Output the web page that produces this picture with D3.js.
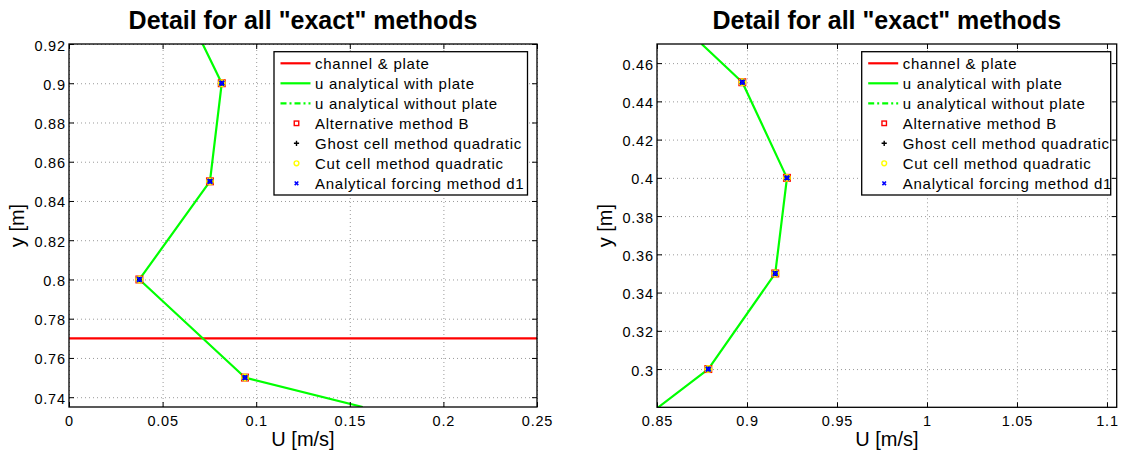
<!DOCTYPE html>
<html>
<head>
<meta charset="utf-8">
<script src="https://cdn.jsdelivr.net/npm/d3@7"></script>
<style>
  html, body { margin: 0; padding: 0; background: #ffffff; }
  svg { display: block; font-family: "Liberation Sans", Arial, Helvetica, sans-serif; }
</style>
</head>
<body>
<svg id="fig" width="1126" height="452"></svg>
<script>
// ---------------- data ----------------
const titleText = 'Detail for all "exact" methods';
const xLabelText = "U [m/s]";
const yLabelText = "y [m]";
const legendLabels = [
  "channel & plate",
  "u analytical with plate",
  "u analytical without plate",
  "Alternative method B",
  "Ghost cell method quadratic",
  "Cut cell method quadratic",
  "Analytical forcing method d1"
];

// left panel: region around the plate
const leftXTicks = [0, 0.05, 0.1, 0.15, 0.2, 0.25];
const leftYTicks = [0.74, 0.76, 0.78, 0.8, 0.82, 0.84, 0.86, 0.88, 0.9, 0.92];
const leftProfileY = [0.92, 0.9, 0.85, 0.8, 0.75, 0.735];
const leftProfileU = [0.0714, 0.0816, 0.0753, 0.0376, 0.0940, 0.1569];
const leftPlateY = [0.77];
const leftSampleY = [0.9, 0.85, 0.8, 0.75];
const leftAltB    = [0.0816, 0.0753, 0.0376, 0.0940];
const leftGhost   = [0.0816, 0.0753, 0.0376, 0.0940];
const leftCutCell = [0.0816, 0.0753, 0.0376, 0.0940];
const leftForcing = [0.0816, 0.0753, 0.0376, 0.0940];

// right panel: channel centre region
const rightXTicks = [0.85, 0.9, 0.95, 1, 1.05, 1.1];
const rightYTicks = [0.3, 0.32, 0.34, 0.36, 0.38, 0.4, 0.42, 0.44, 0.46];
const rightProfileY = [0.47, 0.45, 0.4, 0.35, 0.3, 0.28];
const rightProfileU = [0.8748, 0.8974, 0.9222, 0.9157, 0.8785, 0.8507];
const rightPlateY = [];
const rightSampleY = [0.45, 0.4, 0.35, 0.3];
const rightAltB    = [0.8974, 0.9222, 0.9157, 0.8785];
const rightGhost   = [0.8974, 0.9222, 0.9157, 0.8785];
const rightCutCell = [0.8974, 0.9222, 0.9157, 0.8785];
const rightForcing = [0.8974, 0.9222, 0.9157, 0.8785];

// ---------------- styling ----------------
const GREEN = "#00ff00", RED = "#ff0000", YELLOW = "#ffff00", BLUE = "#0000ff";
const TICK_FS = 14.5, TICK_LS = 0.8;
const LEG_FS = 15, LEG_LS = 0.75;

const svg = d3.select("#fig");
const defs = svg.append("defs");
const fmt = v => String(+v.toFixed(4));

const panels = [
  {
    id: "left", box: [69, 537, 44, 407],
    xDomain: [0, 0.25], yDomain: [0.735, 0.92],
    xTicks: leftXTicks, yTicks: leftYTicks,
    profileY: leftProfileY, profileU: leftProfileU, plateY: leftPlateY,
    sampleY: leftSampleY, altB: leftAltB, ghost: leftGhost, cut: leftCutCell, forcing: leftForcing,
    legendLeft: 263, legendW: 253.5
  },
  {
    id: "right", box: [657, 1116.7, 44, 407.3],
    xDomain: [0.85, 1.1054], yDomain: [0.28, 0.47],
    xTicks: rightXTicks, yTicks: rightYTicks,
    profileY: rightProfileY, profileU: rightProfileU, plateY: rightPlateY,
    sampleY: rightSampleY, altB: rightAltB, ghost: rightGhost, cut: rightCutCell, forcing: rightForcing,
    legendLeft: 255, legendW: 249
  }
];

// marker painters
function squareMark(g, cx, cy, s, sw) {
  g.append("rect").attr("x", cx - s / 2).attr("y", cy - s / 2).attr("width", s).attr("height", s)
    .attr("fill", "none").attr("stroke", RED).attr("stroke-width", sw);
}
function plusMark(g, cx, cy, h, sw) {
  g.append("path").attr("d", `M${cx - h},${cy}H${cx + h}M${cx},${cy - h}V${cy + h}`)
    .attr("stroke", "#000").attr("stroke-width", sw).attr("fill", "none");
}
function circleMark(g, cx, cy, r, sw) {
  g.append("circle").attr("cx", cx).attr("cy", cy).attr("r", r)
    .attr("fill", "none").attr("stroke", YELLOW).attr("stroke-width", sw);
}
function crossMark(g, cx, cy, h, sw) {
  g.append("path").attr("d", `M${cx - h},${cy - h}L${cx + h},${cy + h}M${cx - h},${cy + h}L${cx + h},${cy - h}`)
    .attr("stroke", BLUE).attr("stroke-width", sw).attr("fill", "none");
}

function drawPanel(p) {
  const [x0, x1, y0, y1] = p.box;
  const w = x1 - x0, h = y1 - y0;
  const x = d3.scaleLinear().domain(p.xDomain).range([x0, x1]);
  const y = d3.scaleLinear().domain(p.yDomain).range([y1, y0]);
  const g = svg.append("g").attr("class", "panel-" + p.id);

  defs.append("clipPath").attr("id", "clip-" + p.id)
    .append("rect").attr("x", x0).attr("y", y0).attr("width", w).attr("height", h);

  // dotted grid
  g.append("g").attr("transform", `translate(0,${y1})`)
    .call(d3.axisBottom(x).tickValues(p.xTicks).tickSize(-h).tickFormat(""))
    .call(a => a.select(".domain").remove())
    .selectAll("line").attr("stroke", "#9a9a9a").attr("stroke-width", 1).attr("stroke-dasharray", "1,3");
  g.append("g").attr("transform", `translate(${x0},0)`)
    .call(d3.axisLeft(y).tickValues(p.yTicks).tickSize(-w).tickFormat(""))
    .call(a => a.select(".domain").remove())
    .selectAll("line").attr("stroke", "#9a9a9a").attr("stroke-width", 1).attr("stroke-dasharray", "1,3");

  const plot = g.append("g").attr("clip-path", `url(#clip-${p.id})`);

  // plate position
  plot.selectAll("line.plate").data(p.plateY).join("line").attr("class", "plate")
    .attr("x1", x0).attr("x2", x1).attr("y1", d => y(d)).attr("y2", d => y(d))
    .attr("stroke", RED).attr("stroke-width", 2.2);

  // analytical profile with plate
  const profile = p.profileY.map((yy, i) => [p.profileU[i], yy]);
  plot.append("path").datum(profile)
    .attr("d", d3.line().x(d => x(d[0])).y(d => y(d[1])))
    .attr("fill", "none").attr("stroke", GREEN).attr("stroke-width", 2.2).attr("stroke-linejoin", "round");

  // numerical methods at the sample points
  const mk = plot.append("g");
  p.sampleY.forEach((yy, i) => squareMark(mk, x(p.altB[i]), y(yy), 6.5, 1.5));
  p.sampleY.forEach((yy, i) => plusMark(mk, x(p.ghost[i]), y(yy), 3.5, 1.5));
  p.sampleY.forEach((yy, i) => circleMark(mk, x(p.cut[i]), y(yy), 3.2, 1.5));
  p.sampleY.forEach((yy, i) => crossMark(mk, x(p.forcing[i]), y(yy), 2.4, 2.2));

  // box with inward ticks on all sides
  const TL = 5;
  const tickStyle = s => s.call(a => a.select(".domain").remove())
    .selectAll("line").attr("stroke", "#000").attr("stroke-width", 1);
  g.append("g").attr("transform", `translate(0,${y1})`)
    .call(d3.axisBottom(x).tickValues(p.xTicks).tickSize(-TL).tickFormat("")).call(tickStyle);
  g.append("g").attr("transform", `translate(0,${y0})`)
    .call(d3.axisTop(x).tickValues(p.xTicks).tickSize(-TL).tickFormat("")).call(tickStyle);
  g.append("g").attr("transform", `translate(${x0},0)`)
    .call(d3.axisLeft(y).tickValues(p.yTicks).tickSize(-TL).tickFormat("")).call(tickStyle);
  g.append("g").attr("transform", `translate(${x1},0)`)
    .call(d3.axisRight(y).tickValues(p.yTicks).tickSize(-TL).tickFormat("")).call(tickStyle);
  g.append("rect").attr("x", x0).attr("y", y0).attr("width", w).attr("height", h)
    .attr("fill", "none").attr("stroke", "#000").attr("stroke-width", 1.3);

  // tick labels
  g.append("g").attr("transform", `translate(0,${y1})`)
    .call(d3.axisBottom(x).tickValues(p.xTicks).tickSize(0).tickFormat(fmt))
    .call(a => a.select(".domain").remove())
    .call(a => a.selectAll("line").remove())
    .selectAll("text").attr("y", 19).attr("dy", null)
    .attr("font-size", TICK_FS).attr("letter-spacing", TICK_LS).attr("fill", "#000")
    .attr("font-family", null);
  g.append("g").attr("transform", `translate(${x0},0)`)
    .call(d3.axisLeft(y).tickValues(p.yTicks).tickSize(0).tickFormat(fmt))
    .call(a => a.select(".domain").remove())
    .call(a => a.selectAll("line").remove())
    .selectAll("text").attr("x", -3.2).attr("y", 6).attr("dy", null)
    .attr("font-size", TICK_FS).attr("letter-spacing", TICK_LS).attr("fill", "#000")
    .attr("font-family", null);
  g.selectAll(".tick text").attr("font-family", null);

  // title and axis labels
  g.append("text").attr("x", (x0 + x1) / 2).attr("y", 29).attr("text-anchor", "middle")
    .attr("font-size", 25).attr("font-weight", "bold").text(titleText);
  g.append("text").attr("x", (x0 + x1) / 2).attr("y", 446).attr("text-anchor", "middle")
    .attr("font-size", 20).text(xLabelText);
  g.append("text").attr("transform", `translate(${x0 - 44.6},${(y0 + y1) / 2}) rotate(-90)`)
    .attr("text-anchor", "middle").attr("font-size", 20).text(yLabelText);

  // legend
  const lg = g.append("g").attr("transform", `translate(${x1 - p.legendLeft},${y0 + 7.7})`);
  lg.append("rect").attr("x", 0).attr("y", 0).attr("width", p.legendW).attr("height", 143.3)
    .attr("fill", "#fff").attr("stroke", "#000").attr("stroke-width", 1.3);
  const rowY = i => 11.6 + 20 * i;
  const lineEntry = (i, color, dash) => {
    lg.append("line").attr("x1", 6.5).attr("x2", 36.5).attr("y1", rowY(i)).attr("y2", rowY(i))
      .attr("stroke", color).attr("stroke-width", 2.2).attr("stroke-dasharray", dash);
  };
  lineEntry(0, RED, null);
  lineEntry(1, GREEN, null);
  lineEntry(2, GREEN, "6,3,2,3");
  const mx = 22.5;
  squareMark(lg, mx, rowY(3), 4.5, 1.4);
  plusMark(lg, mx, rowY(4), 2.6, 1.4);
  circleMark(lg, mx, rowY(5), 2.4, 1.4);
  crossMark(lg, mx, rowY(6), 1.8, 1.6);
  lg.selectAll("text.leg").data(legendLabels).join("text").attr("class", "leg")
    .attr("x", 41).attr("y", (d, i) => rowY(i) + 5.4)
    .attr("font-size", LEG_FS).attr("letter-spacing", LEG_LS).text(d => d);
}

panels.forEach(drawPanel);
</script>
</body>
</html>
